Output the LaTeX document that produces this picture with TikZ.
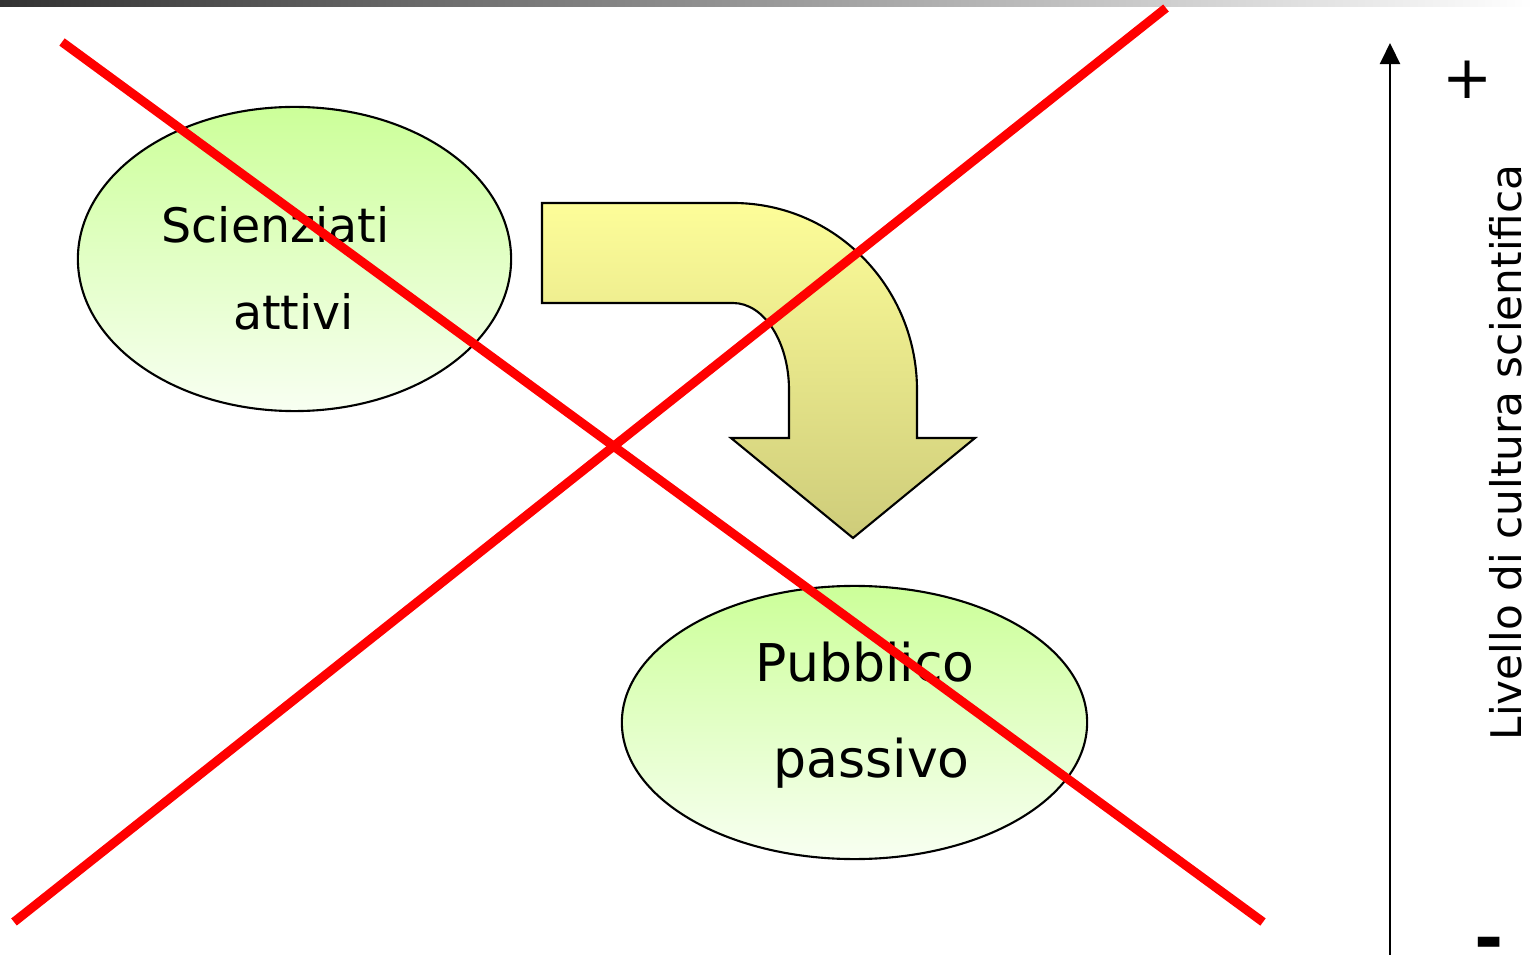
\documentclass[tikz,border=0pt]{standalone}
\usepackage{fontspec}
\setmainfont{DejaVu Sans}
\usetikzlibrary{shapes.geometric,arrows.meta}

\begin{document}
\begin{tikzpicture}[x=0.01cm, y=-0.01cm,
  every node/.style={inner sep=0pt, font=\fontsize{13.5}{16}\selectfont}
]
\tikzset{
  bolla/.style={ellipse, draw=black, line width=0.6pt,
    top color={rgb,255:red,204;green,255;blue,153},
    bottom color={rgb,255:red,248;green,255;blue,242}},
  freccia/.style={draw=black, line width=0.6pt,
    top color={rgb,255:red,253;green,253;blue,153},
    bottom color={rgb,255:red,206;green,204;blue,122}},
  croce/.style={draw=red, line width=0.09cm},
  testo/.style={anchor=base},
  grande/.style={anchor=base, font=\fontsize{14.8}{17}\selectfont}
}
\useasboundingbox (0,0) rectangle (1533,955);

% barra in alto
\shade[left color={rgb,255:red,50;green,50;blue,50}, right color=white]
  (0,0) rectangle (1533,7);

% bolle
\node[bolla, minimum width=4.33cm, minimum height=3.04cm] (scienziati) at (294.5,259) {};
\node[bolla, minimum width=4.65cm, minimum height=2.73cm] (pubblico) at (854.5,722.5) {};

\node[testo] (s1) at (275.5,243) {Scienziati};
\node[testo] (s2) at (293.5,330) {attivi};
\node[grande] (p1) at (865,682) {Pubblico};
\node[grande] (p2) at (871.5,777) {passivo};

% freccia curva
\path[freccia] (542,203) -- (733,203)
  .. controls (835,203) and (917,287) .. (917,390)
  -- (917,438) -- (975,438) -- (853,538) -- (731,438) -- (789,438)
  -- (789,390) .. controls (789,342) and (764,303) .. (733,303)
  -- (542,303) -- cycle;

% asse
\coordinate (basso) at (1390,955);
\coordinate (alto) at (1390,43);
\draw[line width=0.02cm, -{Triangle[width=0.2cm, length=0.21cm]}] (basso) -- (alto);
\node[font=\fontsize{17}{20}\selectfont] (piu) at (1468,80) {+};
\node[font=\fontsize{20}{24}\selectfont\bfseries] (meno) at (1489,950) {-};
\node[rotate=90, font=\fontsize{12}{14}\selectfont] (livello) at (1506,452.5)
  {Livello di cultura scientifica};

% croce rossa
\coordinate (c1) at (62,42);
\coordinate (c2) at (1263,922);
\coordinate (c3) at (14,922);
\coordinate (c4) at (1166,8);
\draw[croce] (c1) -- (c2);
\draw[croce] (c3) -- (c4);
\end{tikzpicture}
\end{document}
